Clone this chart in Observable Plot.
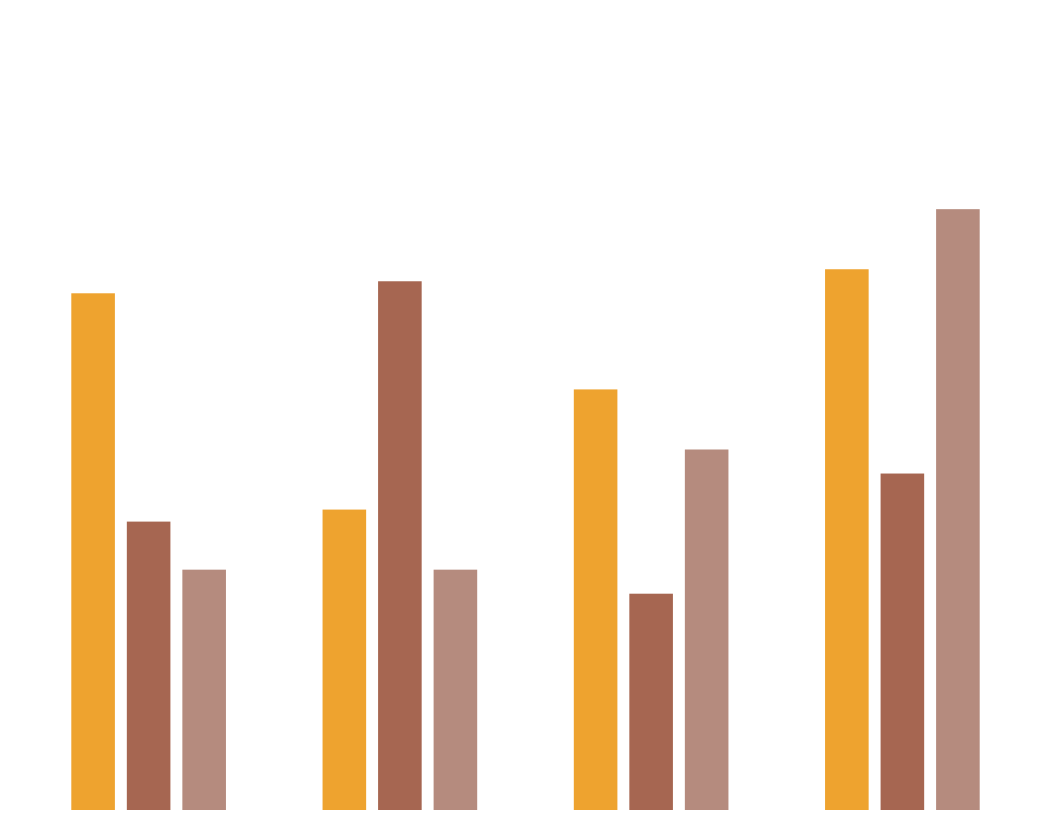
<!DOCTYPE html>
<html>
<head>
<meta charset="utf-8">
<script src="https://cdn.jsdelivr.net/npm/d3@7"></script>
<script src="https://cdn.jsdelivr.net/npm/@observablehq/plot@0.6"></script>
<style>
  html, body { margin: 0; padding: 0; background: #ffffff; }
  #chart svg { display: block; }
</style>
</head>
<body>
<div id="chart"></div>
<script>
const groups = ["G1", "G2", "G3", "G4"];
const series = ["A", "B", "C"];
const valuesA = [43, 25, 35, 45];
const valuesB = [24, 44, 18, 28];
const valuesC = [20, 20, 30, 50];
const colors = ["#EEA32F", "#A66651", "#B58B7E"];

const allValues = [valuesA, valuesB, valuesC];
const data = [];
groups.forEach((g, i) => {
  series.forEach((s, j) => {
    data.push({group: g, series: s, value: allValues[j][i]});
  });
});

const chart = Plot.plot({
  width: 1051,
  height: 833,
  marginLeft: 23,
  marginRight: 23,
  marginTop: 89,
  marginBottom: 23,
  fx: {domain: groups, padding: 0, round: false, axis: null},
  x: {domain: series, paddingInner: 0.215, paddingOuter: 0.87, round: false, axis: null},
  y: {domain: [0, 60], axis: null},
  color: {domain: series, range: colors},
  marks: [
    Plot.barY(data, {fx: "group", x: "series", y: "value", fill: "series"})
  ]
});
document.getElementById("chart").appendChild(chart);
</script>
</body>
</html>
